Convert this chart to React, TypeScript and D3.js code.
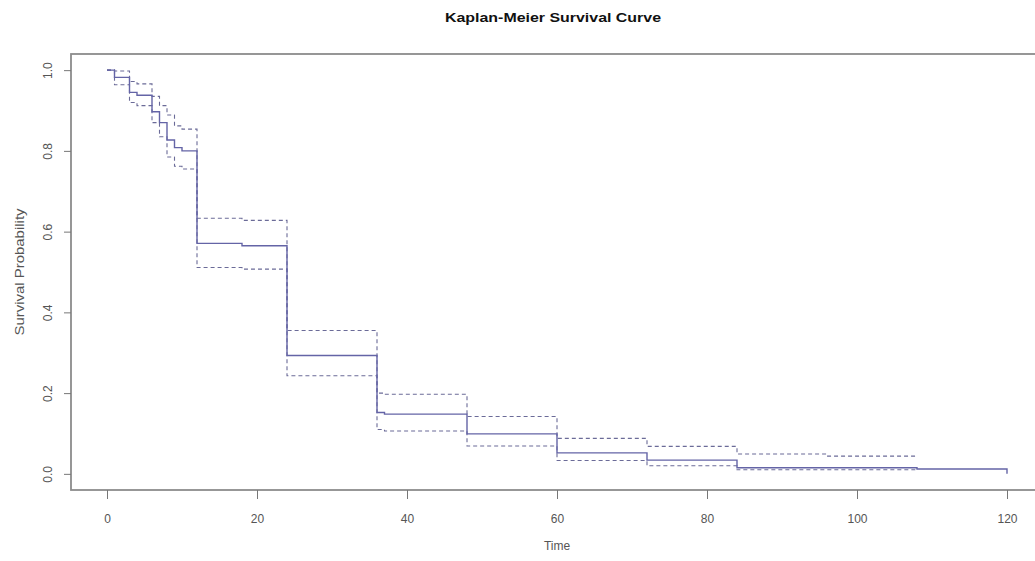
import React, { useRef, useEffect } from "react";
import * as d3 from "d3";

// Kaplan-Meier step data
const times = [0, 1, 3, 4, 6, 7, 8, 9, 10, 12, 18, 24, 36, 37, 48, 60, 72, 84, 96, 108, 120];
const survival = [1, 0.982, 0.945, 0.938, 0.897, 0.87, 0.827, 0.808, 0.8, 0.571, 0.565, 0.293, 0.152, 0.148, 0.099, 0.052, 0.034, 0.015, 0.015, 0.012, 0];
// confidence band stops at t = 108
const upper = [1, 0.998, 0.972, 0.966, 0.935, 0.912, 0.889, 0.862, 0.854, 0.633, 0.628, 0.355, 0.2, 0.197, 0.142, 0.088, 0.068, 0.049, 0.044, 0.044];
const lower = [1, 0.964, 0.92, 0.912, 0.87, 0.835, 0.785, 0.762, 0.755, 0.511, 0.507, 0.243, 0.11, 0.106, 0.069, 0.033, 0.02, 0.01, 0.01, 0.009];

const xTicks = [0, 20, 40, 60, 80, 100, 120];
const yTicks = [0, 0.2, 0.4, 0.6, 0.8, 1.0];

const FONT = "'Liberation Sans', Arial, sans-serif";

const KMChart = ({ width = 1035, height = 561 }) => {
  const ref = useRef<SVGSVGElement>(null);

  useEffect(() => {
    const svg = d3.select(ref.current);
    svg.selectChildren().remove();

    // R style: axis range padded by 4%
    const x = d3.scaleLinear().domain([-4.8, 124.8]).range([71, 1043]);
    const y = d3.scaleLinear().domain([-0.04, 1.04]).range([490, 54]);

    const g = svg.append("g").style("font-family", FONT);

    // title
    g.append("text")
      .attr("x", 553)
      .attr("y", 22)
      .attr("text-anchor", "middle")
      .attr("font-weight", "bold")
      .attr("font-size", 13)
      .attr("fill", "#111")
      .attr("textLength", 216)
      .attr("lengthAdjust", "spacingAndGlyphs")
      .text("Kaplan-Meier Survival Curve");

    // curves
    const line = d3
      .line<[number, number]>()
      .x((d) => x(d[0]))
      .y((d) => y(d[1]))
      .curve(d3.curveStepAfter);

    const band = (vals: number[]) => vals.map((v, i) => [times[i], v] as [number, number]);

    [upper, lower].forEach((vals) =>
      g.append("path")
        .attr("d", line(band(vals)))
        .attr("fill", "none")
        .attr("stroke", "#6b6b98")
        .attr("stroke-width", 1.1)
        .attr("stroke-dasharray", "4,3")
    );

    g.append("path")
      .attr("d", line(band(survival)))
      .attr("fill", "none")
      .attr("stroke", "#6464a6")
      .attr("stroke-width", 1.4);

    // box
    g.append("rect")
      .attr("x", x.range()[0])
      .attr("y", y.range()[1])
      .attr("width", x.range()[1] - x.range()[0])
      .attr("height", y.range()[0] - y.range()[1])
      .attr("fill", "none")
      .attr("stroke", "#8c8c8c")
      .attr("stroke-width", 1.8);

    // x axis
    const xa = g
      .append("g")
      .attr("transform", `translate(0, ${y.range()[0]})`)
      .call(d3.axisBottom(x).tickValues(xTicks).tickSize(9).tickPadding(15).tickFormat(d3.format("d")));
    xa.select(".domain").remove();
    xa.selectAll("line").attr("stroke", "#777");
    xa.selectAll("text").attr("fill", "#555").attr("font-size", 12).attr("font-family", FONT);

    // y axis (labels rotated like R's las = 0)
    const ya = g
      .append("g")
      .attr("transform", `translate(${x.range()[0]}, 0)`)
      .call(d3.axisLeft(y).tickValues(yTicks).tickSize(7).tickFormat(d3.format(".1f")));
    ya.select(".domain").remove();
    ya.selectAll("line").attr("stroke", "#777");
    ya.selectAll("text")
      .attr("fill", "#555")
      .attr("font-size", 12)
      .attr("font-family", FONT)
      .attr("x", null)
      .attr("dy", null)
      .attr("text-anchor", "middle")
      .attr("transform", "translate(-19, 0) rotate(-90)");

    // axis titles
    g.append("text")
      .attr("x", 557)
      .attr("y", 550)
      .attr("text-anchor", "middle")
      .attr("font-size", 12)
      .attr("fill", "#555")
      .text("Time");

    g.append("text")
      .attr("transform", `translate(24, 272) rotate(-90)`)
      .attr("text-anchor", "middle")
      .attr("font-size", 12)
      .attr("fill", "#555")
      .attr("textLength", 127)
      .attr("lengthAdjust", "spacingAndGlyphs")
      .text("Survival Probability");
  }, [width, height]);

  return <svg ref={ref} width={width} height={height} style={{ position: "absolute", left: 0, top: 0, background: "#fff" }} />;
};

export default function App() {
  return <KMChart />;
}
